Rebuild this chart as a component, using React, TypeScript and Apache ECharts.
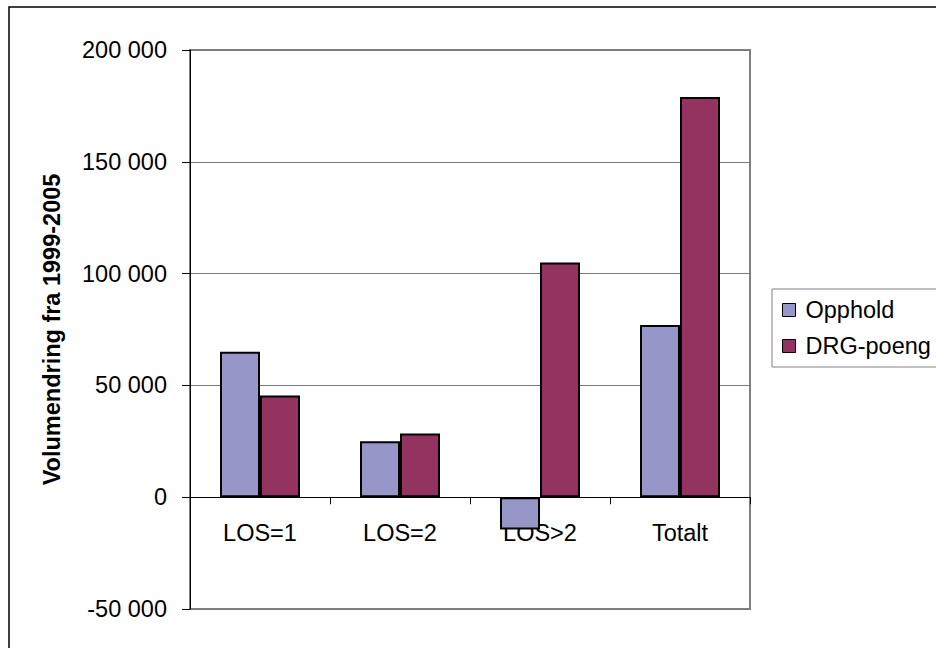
import React, { useEffect, useRef } from "react";
import * as echarts from "echarts";

const categories = ["LOS=1", "LOS=2", "LOS>2", "Totalt"];
const opphold = [65000, 25000, -14500, 77000];
const drgPoeng = [45500, 28500, 105000, 179000];
const seriesNames = ["Opphold", "DRG-poeng"];
const yTicks = { min: -50000, max: 200000, interval: 50000 };
const yTitle = "Volumendring fra 1999-2005";

const FONT = "'Liberation Sans', Arial, sans-serif";
const FS = 23.5;

const GRID_TOP = 50;
const GRID_BOTTOM = 39;
const CHART_H = 648;

function fmt(v: number): string {
  const s = Math.abs(v).toString().replace(/\B(?=(\d{3})+(?!\d))/g, " ");
  return (v < 0 ? "-" : "") + s;
}

export default function App() {
  const ref = useRef<HTMLDivElement>(null);
  useEffect(() => {
    if (!ref.current) return;
    const chart = echarts.init(ref.current, undefined, { renderer: "svg" });
    const plotH = CHART_H - GRID_TOP - GRID_BOTTOM;
    // distance from the bottom of the plot up to the zero line
    const zeroFromBottom = (plotH * (0 - yTicks.min)) / (yTicks.max - yTicks.min);
    chart.setOption({
      animation: false,
      backgroundColor: "#ffffff",
      textStyle: { fontFamily: FONT, color: "#000" },
      graphic: [
        {
          type: "rect",
          shape: { x: 9, y: 7, width: 1000, height: 700 },
          style: { fill: "none", stroke: "#000", lineWidth: 1.5 },
          z: 0,
        },
      ],
      grid: {
        left: 190,
        top: GRID_TOP,
        right: 186,
        bottom: GRID_BOTTOM,
        show: true,
        borderColor: "#808080",
        borderWidth: 2,
        backgroundColor: "transparent",
        containLabel: false,
        outerBoundsMode: "none",
      },
      legend: {
        orient: "vertical",
        left: 772,
        top: 289,
        padding: [9, 200, 9, 10],
        itemGap: 12,
        itemWidth: 13,
        itemHeight: 13,
        icon: "rect",
        borderColor: "#808080",
        borderWidth: 1,
        itemStyle: { borderColor: "#000", borderWidth: 1 },
        textStyle: { fontFamily: FONT, fontSize: FS, color: "#000", padding: [0, 0, 0, 5] },
        data: seriesNames,
      },
      xAxis: {
        type: "category",
        data: categories,
        offset: -zeroFromBottom,
        axisLine: { onZero: false, lineStyle: { color: "#000", width: 1 } },
        axisTick: { show: true, alignWithLabel: false, length: 7, lineStyle: { color: "#000", width: 1 } },
        axisLabel: { fontFamily: FONT, fontSize: FS, color: "#000", margin: 24 },
        splitLine: { show: false },
      },
      yAxis: {
        type: "value",
        min: yTicks.min,
        max: yTicks.max,
        interval: yTicks.interval,
        name: yTitle,
        nameLocation: "middle",
        nameGap: 126,
        nameRotate: 90,
        nameTextStyle: { fontFamily: FONT, fontSize: FS, fontWeight: "bold", color: "#000" },
        axisLine: { show: true, lineStyle: { color: "#000", width: 1 } },
        axisTick: { show: true, length: 8, lineStyle: { color: "#000" } },
        axisLabel: { fontFamily: FONT, fontSize: FS, color: "#000", margin: 23, formatter: (v: number) => fmt(v) },
        splitLine: { show: true, lineStyle: { color: "#7a7a7a", width: 1 } },
      },
      series: [
        {
          name: seriesNames[0],
          type: "bar",
          data: opphold,
          barWidth: 40,
          barGap: "0%",
          itemStyle: { color: "#9696C8", borderColor: "#000", borderWidth: 2 },
        },
        {
          name: seriesNames[1],
          type: "bar",
          data: drgPoeng,
          barWidth: 40,
          barGap: "0%",
          itemStyle: { color: "#943360", borderColor: "#000", borderWidth: 2 },
        },
      ],
    });
    return () => chart.dispose();
  }, []);
  return (
    <div
      ref={ref}
      style={{ position: "fixed", left: 0, top: 0, width: 936, height: CHART_H }}
    />
  );
}
